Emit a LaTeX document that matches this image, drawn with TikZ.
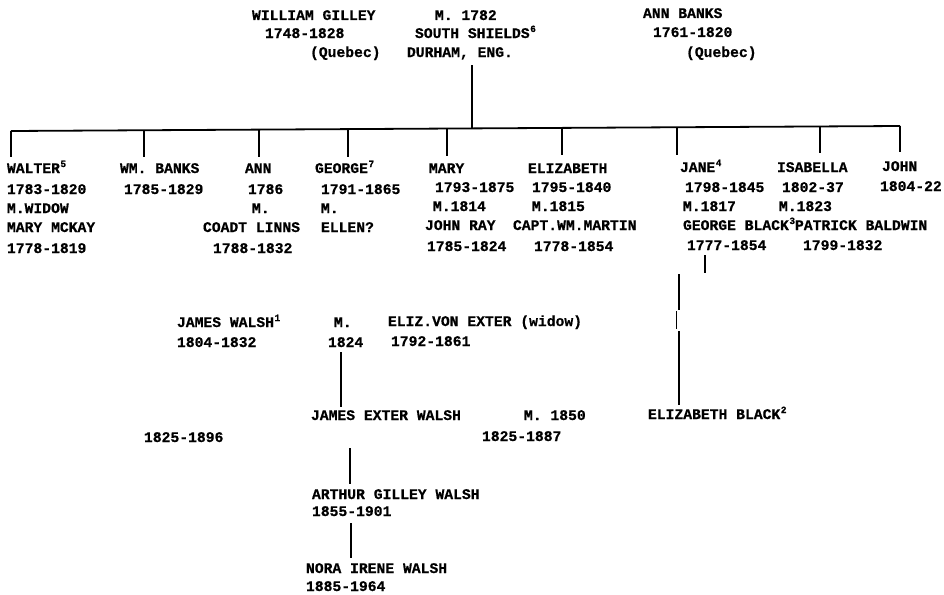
\documentclass[tikz,border=0pt]{standalone}
\usepackage{fontspec}
\newfontfamily\twfont{Liberation Mono}[BoldFeatures={FakeBold=0.6}]
\newcommand\supnum[1]{\kern0.5pt\raisebox{6pt}{\fontsize{9.5}{10}\selectfont #1}}
\tikzset{
  lbl/.style={anchor=base west, inner sep=0pt, outer sep=0pt,
    font=\twfont\bfseries\fontsize{14.7}{16}\selectfont},
  link/.style={line width=1.8pt, black}
}
\begin{document}
\begin{tikzpicture}[x=1pt,y=-1pt]
\useasboundingbox[fill=white] (0,0) rectangle (944,594);
% parents
\node[lbl] (wg)   at (252,20) {WILLIAM GILLEY};
\node[lbl] (wgd)  at (265,38) {1748-1828};
\node[lbl] (wgq)  at (310,57) {(Quebec)};
\node[lbl] (m1782) at (435,20) {M. 1782};
\node[lbl] (ss)   at (415,38) {SOUTH SHIELDS\supnum{6}};
\node[lbl] (dur)  at (407,57) {DURHAM, ENG.};
\node[lbl] (ab)   at (643,18) {ANN BANKS};
\node[lbl] (abd)  at (653,37) {1761-1820};
\node[lbl] (abq)  at (686,57) {(Quebec)};
% children: Walter
\node[lbl] (walter)  at (7,173) {WALTER\supnum{5}};
\node[lbl] (walter2) at (7,194) {1783-1820};
\node[lbl] (walter3) at (7,213) {M.WIDOW};
\node[lbl] (walter4) at (7,232) {MARY MCKAY};
\node[lbl] (walter5) at (7,253) {1778-1819};
% WM. Banks
\node[lbl] (wmb)  at (120,173) {WM. BANKS};
\node[lbl] (wmb2) at (124,194) {1785-1829};
% Ann
\node[lbl] (ann)  at (245,173) {ANN};
\node[lbl] (ann2) at (248,194) {1786};
\node[lbl] (ann3) at (252,213) {M.};
\node[lbl] (ann4) at (203,232) {COADT LINNS};
\node[lbl] (ann5) at (213,253) {1788-1832};
% George
\node[lbl] (geo)  at (315,173) {GEORGE\supnum{7}};
\node[lbl] (geo2) at (321,194) {1791-1865};
\node[lbl] (geo3) at (321,213) {M.};
\node[lbl] (geo4) at (321,232) {ELLEN?};
% Mary
\node[lbl] (mary)  at (429,173) {MARY};
\node[lbl] (mary2) at (435,192) {1793-1875};
\node[lbl] (mary3) at (433,211) {M.1814};
\node[lbl] (mary4) at (425,230) {JOHN RAY};
\node[lbl] (mary5) at (427,251) {1785-1824};
% Elizabeth
\node[lbl] (eliz)  at (528,173) {ELIZABETH};
\node[lbl] (eliz2) at (532,192) {1795-1840};
\node[lbl] (eliz3) at (532,211) {M.1815};
\node[lbl] (eliz4) at (513,230) {CAPT.WM.MARTIN};
\node[lbl] (eliz5) at (534,251) {1778-1854};
% Jane
\node[lbl] (jane)  at (680,172) {JANE\supnum{4}};
\node[lbl] (jane2) at (685,192) {1798-1845};
\node[lbl] (jane3) at (683,211) {M.1817};
\node[lbl] (jane4) at (683,230) {GEORGE BLACK\supnum{3}};
\node[lbl] (jane5) at (687,250) {1777-1854};
% Isabella
\node[lbl] (isa)  at (777,172) {ISABELLA};
\node[lbl] (isa2) at (782,192) {1802-37};
\node[lbl] (isa3) at (779,211) {M.1823};
\node[lbl] (isa4) at (795,230) {PATRICK BALDWIN};
\node[lbl] (isa5) at (803,250) {1799-1832};
% John
\node[lbl] (john)  at (882,171) {JOHN};
\node[lbl] (john2) at (880,191) {1804-22};
% lower generations
\node[lbl] (jw)   at (177,327) {JAMES WALSH\supnum{1}};
\node[lbl] (jwd)  at (177,347) {1804-1832};
\node[lbl] (jm)   at (334,327) {M.};
\node[lbl] (jmy)  at (328,347) {1824};
\node[lbl] (ev)   at (388,326) {ELIZ.VON EXTER (widow)};
\node[lbl] (evd)  at (391,346) {1792-1861};
\node[lbl] (jew)  at (311,420) {JAMES EXTER WALSH};
\node[lbl] (m1850) at (524,420) {M. 1850};
\node[lbl] (d1896) at (144,442) {1825-1896};
\node[lbl] (d1887) at (482,441) {1825-1887};
\node[lbl] (eb)   at (648,419) {ELIZABETH BLACK\supnum{2}};
\node[lbl] (agw)  at (312,499) {ARTHUR GILLEY WALSH};
\node[lbl] (agwd) at (312,516) {1855-1901};
\node[lbl] (nora) at (306,573) {NORA IRENE WALSH};
\node[lbl] (norad) at (306,591) {1885-1964};
% connector coordinates
\coordinate (ptop) at (472,65);
\coordinate (pbar) at (472,128.4);
\coordinate (barL) at (11,131);
\coordinate (barR) at (900,126);
\coordinate (b1) at (11,131);    \coordinate (d1) at (11,157);
\coordinate (b2) at (144,130.3); \coordinate (d2) at (144,157);
\coordinate (b3) at (259,129.6); \coordinate (d3) at (259,157);
\coordinate (b4) at (348,129.1); \coordinate (d4) at (348,157);
\coordinate (b5) at (447,128.5); \coordinate (d5) at (447,156);
\coordinate (b6) at (562,127.9); \coordinate (d6) at (562,155);
\coordinate (b7) at (677,127.3); \coordinate (d7) at (677,155);
\coordinate (b8) at (820,126.5); \coordinate (d8) at (820,153);
\coordinate (b9) at (900,126);   \coordinate (d9) at (900,152);
\coordinate (js1) at (705,255); \coordinate (js2) at (705,273);
\coordinate (jl1) at (679,274); \coordinate (jl2) at (679,310);
\coordinate (jk1) at (676.5,311); \coordinate (jk2) at (676.5,329);
\coordinate (jl3) at (679,331); \coordinate (jl4) at (679,405);
\coordinate (w1) at (341,352); \coordinate (w2) at (341,407);
\coordinate (a1) at (350,448); \coordinate (a2) at (350,484);
\coordinate (n1) at (351,523); \coordinate (n2) at (351,558);
% connectors
\draw[link] (ptop) -- (pbar);
\draw[link] (barL) -- (barR);
\foreach \i in {1,...,9} { \draw[link] (b\i) -- (d\i); }
\draw[link] (js1) -- (js2);
\draw[link] (jl1) -- (jl2);
\draw[link] (jk1) -- (jk2);
\draw[link] (jl3) -- (jl4);
\draw[link] (w1) -- (w2);
\draw[link] (a1) -- (a2);
\draw[link] (n1) -- (n2);
\end{tikzpicture}
\end{document}
